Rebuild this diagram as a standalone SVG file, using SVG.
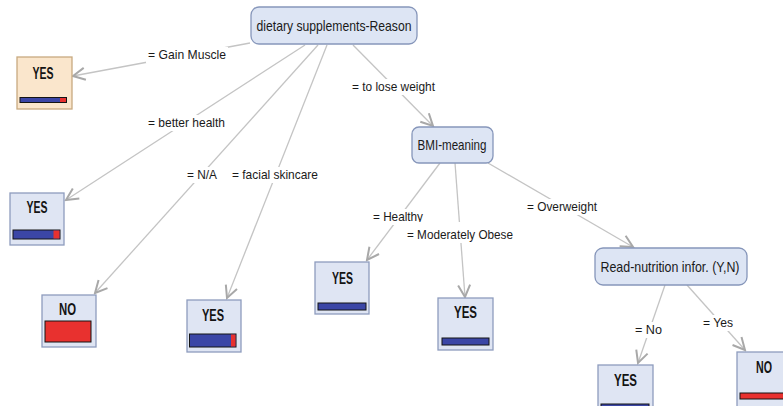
<svg xmlns="http://www.w3.org/2000/svg" width="783" height="406" viewBox="0 0 783 406">
<style>
.dec{fill:#dde5f4;stroke:#8696ba;stroke-width:1.3}
.leaf{fill:#dfe5f3;stroke:#8e9cbe;stroke-width:1.3}
.leafo{fill:#fae6cc;stroke:#c8aa80;stroke-width:1.3}
.dt{font-family:"Liberation Sans",Arial,sans-serif;font-size:15px;fill:#1a1a1a;text-anchor:middle}
.lt{font-family:"Liberation Sans",Arial,sans-serif;font-size:17px;font-weight:bold;fill:#141414;text-anchor:middle}
.el{font-family:"Liberation Sans",Arial,sans-serif;font-size:13px;fill:#1a1a1a}
.bg{fill:#ffffff}
.edge{stroke:#c4c4c4;stroke-width:1.3;fill:none;marker-end:url(#arr)}
.blue{fill:#3b46a6;stroke:#141414;stroke-width:1}
.red{fill:#e8312f;stroke:#141414;stroke-width:1}
.redp{fill:#e8312f}
</style>
<defs>
<marker id="arr" markerUnits="userSpaceOnUse" markerWidth="16" markerHeight="16" viewBox="-14 -8 16 16" refX="0" refY="0" orient="auto">
<path d="M-12,-6 L0,0 L-12,6" fill="none" stroke="#a8a8a8" stroke-width="2"/>
</marker>
</defs>
<rect width="783" height="406" fill="#ffffff"/>
<g id="connectors">
<line class="edge" x1="250" y1="43" x2="73" y2="76"/>
<line class="edge" x1="305" y1="45" x2="66" y2="200"/>
<line class="edge" x1="318" y1="45" x2="95" y2="293"/>
<line class="edge" x1="327" y1="45" x2="227" y2="298"/>
<line class="edge" x1="353" y1="45" x2="433" y2="126"/>
<line class="edge" x1="440" y1="163" x2="367" y2="260"/>
<line class="edge" x1="455" y1="163" x2="465" y2="297"/>
<line class="edge" x1="488" y1="163" x2="633" y2="247"/>
<line class="edge" x1="665" y1="285" x2="638" y2="363"/>
<line class="edge" x1="687" y1="285" x2="745" y2="350"/>
</g>
<g id="edge-labels">
<rect class="bg" x="146" y="47" width="82" height="16"/>
<text class="el" x="148" y="59" textLength="78" lengthAdjust="spacingAndGlyphs">= Gain Muscle</text>
<rect class="bg" x="146" y="115" width="81" height="16"/>
<text class="el" x="148" y="127" textLength="77" lengthAdjust="spacingAndGlyphs">= better health</text>
<rect class="bg" x="185" y="167" width="34" height="16"/>
<text class="el" x="187" y="179" textLength="30" lengthAdjust="spacingAndGlyphs">= N/A</text>
<rect class="bg" x="230" y="167" width="90" height="16"/>
<text class="el" x="232" y="179" textLength="86" lengthAdjust="spacingAndGlyphs">= facial skincare</text>
<rect class="bg" x="350" y="79" width="87" height="16"/>
<text class="el" x="352" y="91" textLength="83" lengthAdjust="spacingAndGlyphs">= to lose weight</text>
<rect class="bg" x="371" y="209" width="54" height="16"/>
<text class="el" x="373" y="221" textLength="50" lengthAdjust="spacingAndGlyphs">= Healthy</text>
<rect class="bg" x="405" y="222" width="110" height="21"/>
<text class="el" x="407" y="239" textLength="106" lengthAdjust="spacingAndGlyphs">= Moderately Obese</text>
<rect class="bg" x="525" y="199" width="74" height="16"/>
<text class="el" x="527" y="211" textLength="70" lengthAdjust="spacingAndGlyphs">= Overweight</text>
<rect class="bg" x="633" y="322" width="31" height="16"/>
<text class="el" x="635" y="334" textLength="27" lengthAdjust="spacingAndGlyphs">= No</text>
<rect class="bg" x="701" y="315" width="34" height="16"/>
<text class="el" x="703" y="327" textLength="30" lengthAdjust="spacingAndGlyphs">= Yes</text>
</g>
<g id="root">
<rect class="dec" x="251" y="7" width="166" height="37" rx="8"/>
<text class="dt" x="334" y="31" textLength="155" lengthAdjust="spacingAndGlyphs">dietary supplements-Reason</text>
</g>
<g id="leaf-gain-muscle">
<rect class="leafo" x="17" y="57" width="55" height="52"/>
<text class="lt" x="43" y="79" textLength="21" lengthAdjust="spacingAndGlyphs">YES</text>
<rect class="blue" x="20" y="97.5" width="46.5" height="5"/>
<rect class="redp" x="60" y="98" width="6" height="4"/>
</g>
<g id="leaf-better-health">
<rect class="leaf" x="10" y="193" width="54" height="52"/>
<text class="lt" x="37" y="213" textLength="21" lengthAdjust="spacingAndGlyphs">YES</text>
<rect class="blue" x="13" y="230" width="47" height="9"/>
<rect class="redp" x="53.5" y="230.5" width="6" height="8"/>
</g>
<g id="leaf-na">
<rect class="leaf" x="42" y="295" width="54" height="52"/>
<text class="lt" x="67.5" y="315" textLength="17" lengthAdjust="spacingAndGlyphs">NO</text>
<rect class="red" x="45" y="321" width="46" height="21"/>
</g>
<g id="leaf-facial-skincare">
<rect class="leaf" x="187" y="300" width="54" height="52"/>
<text class="lt" x="213" y="321" textLength="22" lengthAdjust="spacingAndGlyphs">YES</text>
<rect class="blue" x="189.5" y="334" width="46.5" height="13"/>
<rect class="redp" x="231" y="334.5" width="4.5" height="12"/>
</g>
<g id="bmi">
<rect class="dec" x="412" y="127" width="81" height="36" rx="7"/>
<text class="dt" x="452" y="150" textLength="69" lengthAdjust="spacingAndGlyphs">BMI-meaning</text>
</g>
<g id="leaf-healthy">
<rect class="leaf" x="315" y="262" width="54" height="52"/>
<text class="lt" x="342.5" y="284" textLength="21" lengthAdjust="spacingAndGlyphs">YES</text>
<rect class="blue" x="318" y="303" width="48" height="7"/>
</g>
<g id="leaf-moderately-obese">
<rect class="leaf" x="438" y="298" width="55" height="52"/>
<text class="lt" x="465.5" y="318" textLength="23" lengthAdjust="spacingAndGlyphs">YES</text>
<rect class="blue" x="442" y="338" width="47" height="7"/>
</g>
<g id="read-nutrition">
<rect class="dec" x="595" y="248" width="152" height="37" rx="8"/>
<text class="dt" x="670" y="272" textLength="139" lengthAdjust="spacingAndGlyphs">Read-nutrition infor. (Y,N)</text>
</g>
<g id="leaf-no">
<rect class="leaf" x="598" y="365" width="55" height="52"/>
<text class="lt" x="625.5" y="386" textLength="23" lengthAdjust="spacingAndGlyphs">YES</text>
<rect class="blue" x="601" y="404" width="48" height="7"/>
</g>
<g id="leaf-yes">
<rect class="leaf" x="737" y="352" width="55" height="60"/>
<text class="lt" x="764" y="373" textLength="16" lengthAdjust="spacingAndGlyphs">NO</text>
<rect class="red" x="740" y="393" width="50" height="6"/>
</g>
</svg>
